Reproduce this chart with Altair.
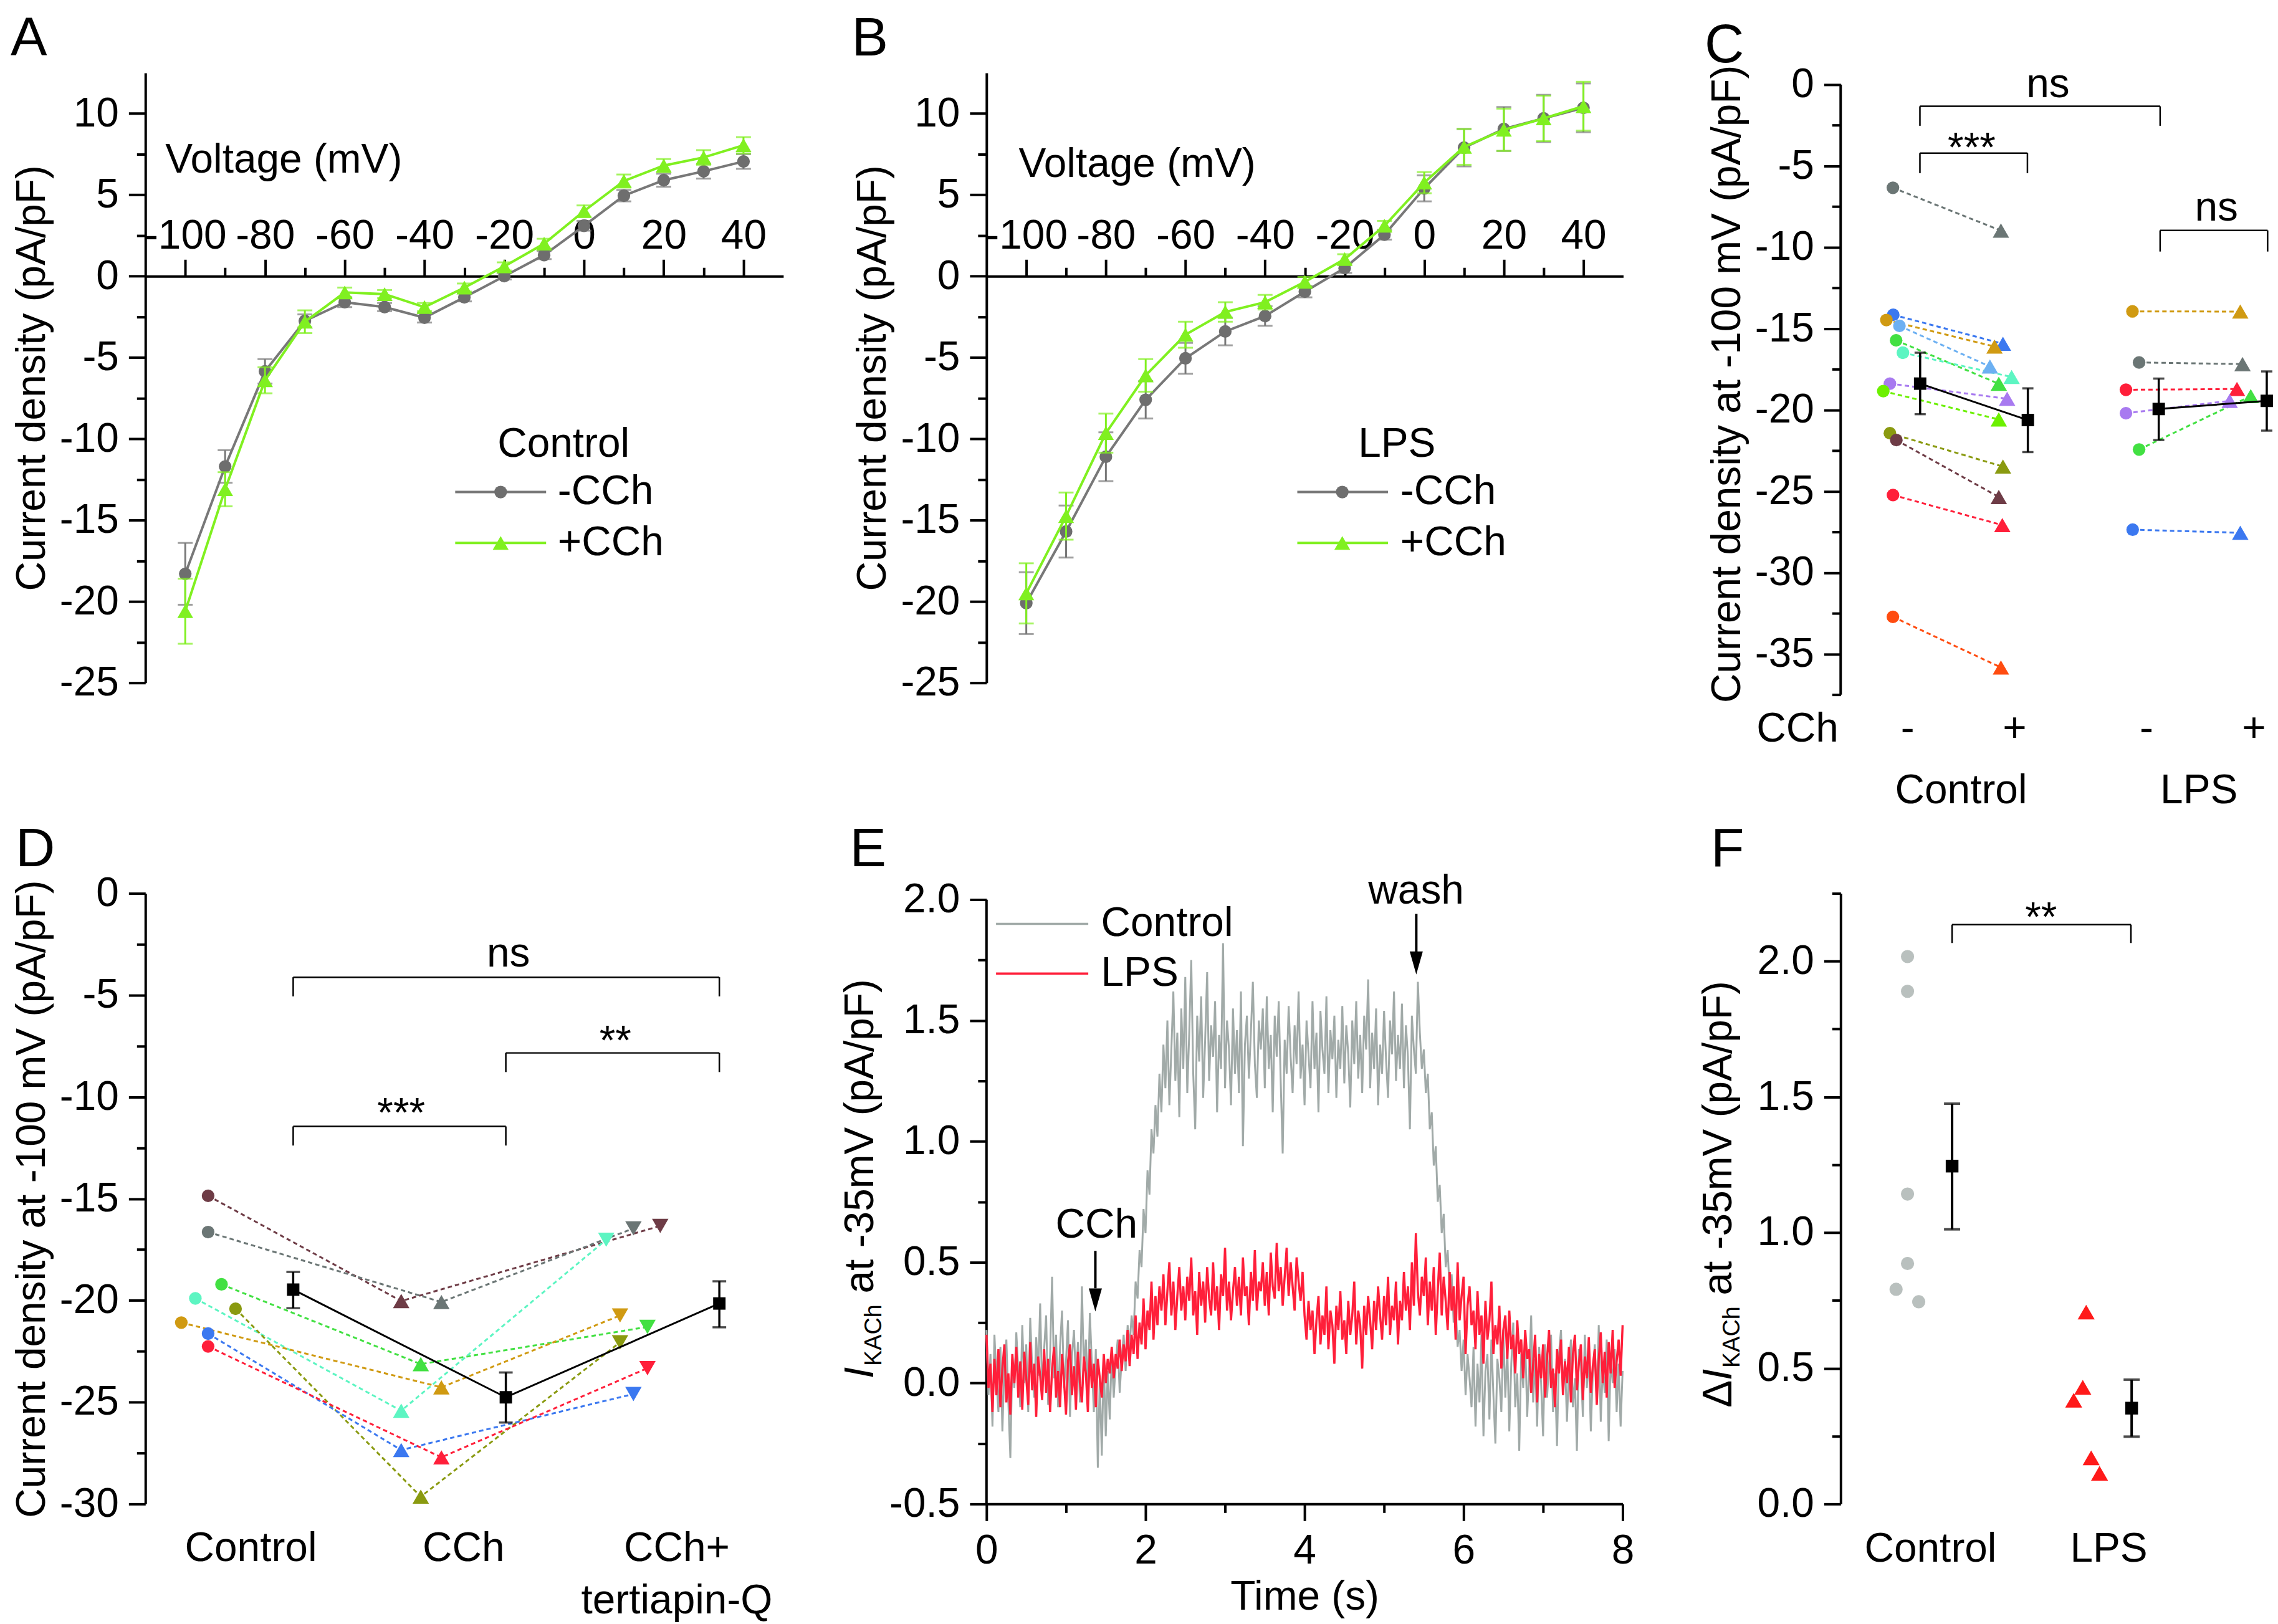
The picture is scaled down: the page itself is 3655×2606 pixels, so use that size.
import altair as alt
import pandas as pd

FONT = "Liberation Sans"
FS = 66
LETTER_FS = 88

# ---------------- data: panels A / B (I-V curves) ----------------
voltage = [-100, -90, -80, -70, -60, -50, -40, -30, -20, -10, 0, 10, 20, 30, 40]
a_minus = [-18.3, -11.7, -5.85, -2.75, -1.6, -1.9, -2.55, -1.3, 0.0, 1.3, 3.1, 4.95, 5.9, 6.45, 7.05]
a_minus_err = [1.9, 1.0, 0.75, 0.4, 0.3, 0.25, 0.3, 0.25, 0.2, 0.25, 0.3, 0.35, 0.4, 0.45, 0.45]
a_plus = [-20.6, -13.1, -6.4, -2.8, -1.0, -1.1, -1.9, -0.7, 0.6, 2.0, 4.0, 5.85, 6.8, 7.3, 8.05]
a_plus_err = [2.0, 1.05, 0.8, 0.7, 0.3, 0.25, 0.25, 0.25, 0.25, 0.3, 0.35, 0.4, 0.4, 0.45, 0.5]
b_minus = [-20.1, -15.7, -11.1, -7.6, -5.05, -3.4, -2.45, -0.95, 0.5, 2.55, 5.4, 7.9, 9.05, 9.7, 10.35]
b_minus_err = [1.9, 1.6, 1.5, 1.15, 0.95, 0.85, 0.6, 0.35, 0.3, 0.3, 0.8, 1.15, 1.35, 1.45, 1.5]
b_plus = [-19.5, -14.75, -9.65, -6.1, -3.6, -2.2, -1.6, -0.35, 1.05, 3.1, 5.75, 7.95, 9.0, 9.7, 10.45]
b_plus_err = [1.85, 1.45, 1.2, 1.0, 0.8, 0.6, 0.45, 0.3, 0.3, 0.3, 0.65, 1.1, 1.3, 1.4, 1.5]
iv_major_ticks = [-100, -80, -60, -40, -20, 0, 20, 40]
iv_minor_ticks = [-90, -70, -50, -30, -10, 10, 30]

# ---------------- data: panel C ----------------
C_GRAY, C_BLUE, C_GOLD, C_LBLUE = "#6b7675", "#3b78f0", "#d09a12", "#6cb0f2"
C_GREEN, C_AQUA, C_LAV, C_LIME = "#42e042", "#5df5c2", "#a87af0", "#6cf000"
C_OLIVE, C_BROWN, C_RED, C_ORED = "#8a9a10", "#6e3c46", "#ff1f3a", "#ff4c10"

c_ctrl_minus = [-6.34, -14.15, -14.47, -14.83, -15.72, -16.48, -18.38, -18.84, -21.43, -21.85, -25.23, -32.72]
c_ctrl_minus_x = [0.489, 0.492, 0.428, 0.55, 0.519, 0.583, 0.461, 0.399, 0.461, 0.521, 0.49, 0.489]
c_ctrl_plus = [-8.97, -15.93, -16.1, -17.33, -18.39, -17.97, -19.31, -20.58, -23.48, -25.35, -27.08, -35.83]
c_ctrl_plus_x = [1.5, 1.519, 1.44, 1.397, 1.48, 1.6, 1.558, 1.48, 1.519, 1.48, 1.513, 1.5]
c_ctrl_colors = [C_GRAY, C_BLUE, C_GOLD, C_LBLUE, C_GREEN, C_AQUA, C_LAV, C_LIME, C_OLIVE, C_BROWN, C_RED, C_ORED]
c_lps_minus = [-13.94, -17.08, -18.76, -20.2, -22.43, -27.36]
c_lps_minus_x = [2.731, 2.793, 2.67, 2.67, 2.793, 2.733]
c_lps_plus = [-13.95, -17.18, -18.71, -19.44, -19.15, -27.55]
c_lps_plus_x = [3.74, 3.761, 3.709, 3.641, 3.838, 3.74]
c_lps_colors = [C_GOLD, C_GRAY, C_RED, C_LAV, C_GREEN, C_BLUE]
c_mean_x = [0.744, 1.752, 2.977, 3.988]
c_mean = [-18.38, -20.62, -19.94, -19.44]
c_mean_lo = [-20.26, -22.59, -21.85, -21.27]
c_mean_hi = [-16.48, -18.67, -18.07, -17.63]
c_mean_group = ["Control", "Control", "LPS", "LPS"]
c_tick_x = [0.626, 1.628, 2.862, 3.868]
c_tick_labels = ["-", "+", "-", "+"]
c_group_x = [1.127, 3.354]
c_group_labels = ["Control", "LPS"]
c_brackets = [(0.742, 2.99, -1.33, -2.53), (0.742, 1.748, -4.21, -5.44), (2.99, 3.996, -8.96, -10.26)]
c_sig_x = [1.94, 1.226, 3.517]
c_sig_y = [0.0, -3.95, -7.6]
c_sig_labels = ["ns", "***", "ns"]

# ---------------- data: panel D ----------------
d_colors = [C_BROWN, C_GRAY, C_GREEN, C_AQUA, C_OLIVE, C_GOLD, C_BLUE, C_RED]
d_ctrl = [-14.86, -16.64, -19.21, -19.9, -20.41, -21.09, -21.63, -22.26]
d_ctrl_x = [0.295, 0.295, 0.358, 0.235, 0.424, 0.169, 0.295, 0.295]
d_cch = [-20.03, -20.08, -23.13, -25.42, -29.64, -24.27, -27.35, -27.71]
d_cch_x = [1.203, 1.392, 1.295, 1.203, 1.295, 1.392, 1.203, 1.392]
d_tq = [-16.34, -16.46, -21.3, -17.02, -22.06, -20.74, -24.6, -23.33]
d_tq_x = [2.421, 2.295, 2.361, 2.167, 2.232, 2.232, 2.295, 2.361]
d_mean_x = [0.695, 1.695, 2.699]
d_mean = [-19.47, -24.76, -20.15]
d_mean_lo = [-20.38, -26.0, -21.32]
d_mean_hi = [-18.6, -23.54, -19.06]
d_cat_x = [0.496, 1.496, 2.499, 2.499]
d_cat_y = [-32.2, -32.2, -32.2, -34.76]
d_cat_labels = ["Control", "CCh", "CCh+", "tertiapin-Q"]
d_brackets = [(0.695, 2.699, -4.12, -5.06), (1.695, 2.699, -7.84, -8.78), (0.695, 1.695, -11.45, -12.39)]
d_sig_x = [1.707, 2.21, 1.203]
d_sig_y = [-2.98, -7.3, -10.86]
d_sig_labels = ["ns", "**", "***"]

# ---------------- data: panel E (traces, 0.025 s sampling) ----------------
e_control = [
    0.22, -0.05, 0.12, -0.18, 0.20, 0.02, -0.12, 0.15, -0.20, 0.08, 0.18, -0.08,
    -0.31, 0.10, -0.02, 0.21, 0.05, -0.10, 0.24, 0.00, 0.16, -0.12, 0.27, 0.06,
    -0.06, 0.19, 0.03, 0.33, -0.04, 0.14, 0.28, -0.09, 0.12, 0.44, 0.02, 0.20,
    -0.10, 0.15, 0.30, -0.02, 0.09, 0.26, -0.14, 0.11, 0.22, 0.00, 0.17, -0.08,
    0.40, 0.05, 0.18, -0.05, 0.29, 0.08, -0.12, 0.14, -0.35, 0.02, -0.30, 0.10,
    -0.22, 0.05, -0.15, 0.12, -0.06, 0.08, 0.18, -0.04, 0.10, 0.20, 0.05, 0.24,
    0.15, 0.28, 0.20, 0.42, 0.35, 0.55, 0.48, 0.72, 0.62, 0.88, 0.78, 1.05,
    0.95, 1.15, 1.02, 1.28, 1.12, 1.40,
    1.22, 1.50, 1.15, 1.38, 1.62, 1.25, 1.45, 1.10, 1.55, 1.30, 1.68, 1.20,
    1.45, 1.75, 1.28, 1.05, 1.52, 1.33, 1.60, 1.18, 1.42, 1.70, 1.25, 1.48,
    1.35, 1.58, 1.12, 1.44, 1.30, 1.82, 1.22, 1.50, 1.38, 1.15, 1.55, 1.28,
    1.46, 1.20, 1.62, 0.98, 1.40, 1.52, 1.26, 1.45, 1.66, 1.32, 1.18, 1.50,
    1.38, 1.55, 1.22, 1.60, 1.30, 1.44, 1.12, 1.52, 1.35, 1.58, 1.25, 0.95,
    1.42, 1.28, 1.56, 1.35, 1.20, 1.48, 1.32, 1.62, 1.26, 1.40, 1.15, 1.50,
    1.36, 1.22, 1.58, 1.30, 1.45, 1.12, 1.54, 1.38, 1.28, 1.60, 1.20, 1.46,
    1.34, 1.52, 1.18, 1.42, 1.30, 1.56, 1.24, 1.48, 1.36, 1.14, 1.50, 1.32,
    1.58, 1.26, 1.44, 1.20, 1.52, 1.38, 1.67, 1.22, 1.45, 1.30, 1.55, 1.15,
    1.40, 1.28, 1.54, 1.34, 1.18, 1.50, 1.36, 1.62, 1.25, 1.44, 1.30, 1.57,
    1.22, 1.48, 1.35, 1.05, 1.52, 1.38, 1.28, 1.66,
    1.45, 1.30, 1.38, 1.20, 1.28, 1.05, 1.12, 0.90, 0.98, 0.75, 0.82, 0.62,
    0.70, 0.48, 0.55, 0.38, 0.45, 0.25, 0.32, 0.15, 0.22, 0.05, 0.18, -0.05,
    0.12, 0.02, -0.10,
    0.15, -0.18, 0.08, -0.08, 0.20, -0.22, 0.05, 0.12, -0.15, 0.18, -0.05, -0.25,
    0.10, 0.02, -0.12, 0.22, -0.06, 0.14, -0.20, 0.08, 0.25, -0.10, 0.04, -0.28,
    0.12, -0.02, 0.18, -0.14, 0.06, 0.28, -0.08, 0.10, -0.18, 0.15, 0.00, -0.22,
    0.16, -0.06, 0.08, 0.20, -0.12, 0.04, -0.26, 0.12, 0.22, -0.04, 0.10, -0.16,
    0.06, 0.18, -0.10, 0.02, -0.28, 0.14, 0.08, -0.14, 0.20, -0.02, 0.12, -0.20,
    0.04, 0.16, -0.08, 0.24, -0.16, 0.06, -0.04, 0.18, -0.24, 0.10, 0.00, 0.14,
    -0.12, 0.08, -0.18, 0.05,
]
e_lps = [
    0.20, -0.02, 0.08, -0.12, 0.10, -0.05, 0.14, -0.10, 0.06, 0.16, -0.08, 0.04,
    -0.13, 0.12, 0.00, 0.15, -0.06, 0.09, -0.11, 0.13, 0.02, -0.09, 0.17, -0.03,
    0.08, -0.14, 0.11, 0.03, -0.07, 0.14, -0.04, 0.10, -0.12, 0.06, 0.15, -0.06,
    0.05, -0.10, 0.12, 0.01, -0.13, 0.09, 0.16, -0.05, 0.07, -0.11, 0.13, 0.00,
    -0.08, 0.11, 0.04, -0.12, 0.14, -0.02, 0.08, -0.10, 0.10, 0.02, -0.06, 0.12,
    0.00, 0.10, 0.04, 0.15, 0.02, 0.12, 0.06, 0.18, 0.05, 0.16, 0.09, 0.22,
    0.07, 0.20, 0.12, 0.28, 0.10, 0.25, 0.16, 0.35, 0.14, 0.30, 0.22, 0.42,
    0.18, 0.36, 0.24, 0.40,
    0.30, 0.45, 0.24, 0.38, 0.50, 0.28, 0.42, 0.22, 0.36, 0.48, 0.30, 0.40,
    0.26, 0.44, 0.34, 0.52, 0.28, 0.38, 0.20, 0.46, 0.32, 0.42, 0.25, 0.48,
    0.35, 0.28, 0.50, 0.30, 0.40, 0.22, 0.45, 0.36, 0.56, 0.30, 0.42, 0.26,
    0.38, 0.48, 0.32, 0.44, 0.28, 0.52, 0.36, 0.40, 0.24, 0.46, 0.34, 0.55,
    0.30, 0.42, 0.38, 0.50, 0.32, 0.46, 0.28, 0.54, 0.40, 0.35, 0.58, 0.38,
    0.48, 0.32, 0.44, 0.56, 0.36, 0.50, 0.40, 0.30, 0.52, 0.42, 0.34, 0.46,
    0.28, 0.18, 0.34, 0.22, 0.30, 0.12, 0.26, 0.36, 0.16, 0.28, 0.20, 0.40,
    0.14, 0.30, 0.24, 0.08, 0.32, 0.22, 0.38, 0.18, 0.26, 0.12, 0.34, 0.20,
    0.28, 0.42, 0.16, 0.30, 0.24, 0.06, 0.32, 0.20, 0.36, 0.26, 0.14, 0.34,
    0.22, 0.40, 0.28, 0.18, 0.36, 0.24, 0.44, 0.20, 0.32, 0.26, 0.42, 0.16,
    0.34, 0.26, 0.46, 0.30, 0.40, 0.22, 0.50, 0.32, 0.62, 0.38, 0.28, 0.44,
    0.36, 0.52, 0.24, 0.42, 0.30, 0.48, 0.20, 0.38, 0.54, 0.28, 0.44, 0.34,
    0.22, 0.46, 0.30, 0.40, 0.18, 0.50, 0.26, 0.36, 0.44, 0.12, 0.32, 0.40, 0.24,
    0.30, 0.14, 0.38, 0.20, 0.28, 0.08, 0.34, 0.18, 0.26, 0.42, 0.12, 0.24,
    0.16, 0.32, 0.06, 0.22, 0.28, 0.10, 0.30, 0.14, 0.20, 0.04, 0.26, 0.12,
    0.18, 0.02, 0.22, 0.10,
    0.14, -0.04, 0.08, 0.20, -0.08, 0.12, 0.02, 0.16, -0.06, 0.10, 0.22, -0.02,
    0.06, -0.10, 0.14, 0.04, 0.18, -0.05, 0.09, 0.00, 0.15, -0.08, 0.12, 0.20,
    -0.03, 0.08, 0.16, -0.07, 0.11, 0.02, 0.19, -0.04, 0.07, 0.14, -0.09, 0.10,
    0.21, 0.00, 0.13, -0.06, 0.17, 0.04, 0.22, -0.02, 0.09, 0.18, 0.03, 0.24,
]
E_DT = 0.025

# ---------------- data: panel F ----------------
f_ctrl = [2.017, 1.889, 1.142, 0.886, 0.791, 0.745]
f_ctrl_x = [0.375, 0.375, 0.375, 0.375, 0.311, 0.438]
f_lps = [0.707, 0.43, 0.382, 0.17, 0.113]
f_lps_x = [1.377, 1.358, 1.307, 1.405, 1.452]
f_mean_x = [0.625, 1.632]
f_mean = [1.245, 0.353]
f_mean_lo = [1.012, 0.248]
f_mean_hi = [1.475, 0.458]
f_cat_x = [0.504, 1.504]
f_cat_labels = ["Control", "LPS"]

GRAY_LN, GRAY_PT, GREEN = "#787878", "#6e6e6e", "#80f020"
E_GRAY, E_RED = "#a1aaa8", "#ff1f3a"
F_GRAY, F_RED = "#b9c0be", "#ff1a1a"
MINUS = "\u2212"


def cond(test, a, b):
    return {"condition": {"test": test, "value": a}, "value": b}


def lab(test):
    return test + " ? replace(datum.label, '" + MINUS + "', '-') : ''"


def text_layer(X, Y, xs, ys, texts, size=FS, align="center", baseline="middle"):
    df = pd.DataFrame({"x": xs, "y": ys, "t": texts})
    return alt.Chart(df).mark_text(font=FONT, fontSize=size, align=align, baseline=baseline,
                                   color="black").encode(x=X("x"), y=Y("y"), text="t:N")


def bracket_layers(X, Y, brackets):
    h = pd.DataFrame({"x1": [b[0] for b in brackets], "x2": [b[1] for b in brackets],
                      "y": [b[2] for b in brackets]})
    legs = pd.DataFrame({"x": [b[0] for b in brackets] + [b[1] for b in brackets],
                         "y1": [b[2] for b in brackets] * 2, "y2": [b[3] for b in brackets] * 2})
    return [alt.Chart(h).mark_rule(color="black", strokeWidth=2.5).encode(x=X("x1"), x2=alt.X2("x2"), y=Y("y")),
            alt.Chart(legs).mark_rule(color="black", strokeWidth=2.5).encode(x=X("x"), y=Y("y1"), y2=alt.Y2("y2"))]


def errbar_layers(X, Y, xs, lo, hi, color, width=3.5, cap=22):
    df = pd.DataFrame({"x": xs, "lo": lo, "hi": hi})
    return [alt.Chart(df).mark_rule(color=color, strokeWidth=width).encode(x=X("x"), y=Y("lo"), y2=alt.Y2("hi")),
            alt.Chart(df).mark_tick(orient="horizontal", size=cap, thickness=width, color=color).encode(x=X("x"), y=Y("lo")),
            alt.Chart(df).mark_tick(orient="horizontal", size=cap, thickness=width, color=color).encode(x=X("x"), y=Y("hi"))]


def letter_layer(ch, dx, dy):
    return alt.Chart(pd.DataFrame({"t": [ch]})).mark_text(
        font=FONT, fontSize=LETTER_FS, align="left", baseline="alphabetic", color="black"
    ).encode(x=alt.value(dx), y=alt.value(dy), text="t:N")


def vtext(t, dx, dy, size, style="normal"):
    return alt.Chart(pd.DataFrame({"t": [t]})).mark_text(
        font=FONT, fontSize=size, fontStyle=style, angle=270, align="left", baseline="alphabetic", color="black"
    ).encode(x=alt.value(dx), y=alt.value(dy), text="t:N")


def points_layer(X, Y, xs, ys, colors, shape, size):
    df = pd.DataFrame({"x": xs, "y": ys, "c": colors})
    return alt.Chart(df).mark_point(filled=True, opacity=1, shape=shape, size=size, strokeWidth=0).encode(
        x=X("x"), y=Y("y"), color=alt.Color("c:N", scale=None))


# ---------------- panels A / B ----------------
def iv_panel(minus, minus_err, plus, plus_err, group, width, leg, volt_x, volt_y, letter):
    H = 982
    y0 = H * 12.5 / 37.5
    xs = alt.Scale(domain=[-110, 50], nice=False, zero=False)
    ys = alt.Scale(domain=[-25, 12.5], nice=False, zero=False)
    yax = alt.Axis(values=[-25 + 2.5 * i for i in range(15)], labelExpr=lab("datum.value % 5 == 0"),
                   tickSize=cond("datum.value % 5 == 0", 27, 14), title="Current density (pA/pF)")
    x_major = alt.Axis(orient="top", offset=-y0, values=iv_major_ticks,
                       labelExpr="replace(datum.label, '" + MINUS + "', '-')",
                       tickSize=27, labelPadding=4, title=None)
    x_minor = alt.Axis(orient="top", offset=-y0, values=iv_minor_ticks, labels=False,
                       tickSize=14, domain=False, title=None)

    def X(f, ax=None):
        if ax is None:
            return alt.X(f, type="quantitative", scale=xs, axis=None)
        return alt.X(f, type="quantitative", scale=xs, axis=ax)

    def Y(f):
        return alt.Y(f, type="quantitative", scale=ys, axis=yax)

    layers = []
    # two invisible layers carrying the major and minor x axes
    tick_df = pd.DataFrame({"x": voltage, "y": [0] * len(voltage)})
    layers.append(alt.Chart(tick_df).mark_point(opacity=0).encode(x=X("x", x_major), y=Y("y")))
    layers.append(alt.Chart(tick_df).mark_point(opacity=0).encode(x=X("x", x_minor), y=Y("y")))
    for vals, errs, lcol, pcol, shape, size in [(minus, minus_err, GRAY_LN, GRAY_PT, "circle", 415),
                                                 (plus, plus_err, GREEN, GREEN, "triangle-up", 650)]:
        lo = [v - e for v, e in zip(vals, errs)]
        hi = [v + e for v, e in zip(vals, errs)]
        layers += errbar_layers(X, Y, voltage, lo, hi, lcol, width=3, cap=24)
        df = pd.DataFrame({"x": voltage, "y": vals})
        layers.append(alt.Chart(df).mark_line(color=lcol, strokeWidth=4).encode(x=X("x"), y=Y("y")))
        layers.append(points_layer(X, Y, voltage, vals, [pcol] * len(vals), shape, size))
    # legend
    lx1, lx2, lxm, lxt, ly1, ly2, ltx, lty = leg
    ldf = pd.DataFrame({"x1": [lx1, lx1], "x2": [lx2, lx2], "y": [ly1, ly2], "c": [GRAY_LN, GREEN]})
    layers.append(alt.Chart(ldf).mark_rule(strokeWidth=4).encode(x=X("x1"), x2=alt.X2("x2"), y=Y("y"),
                                                                 color=alt.Color("c:N", scale=None)))
    layers.append(points_layer(X, Y, [lxm], [ly1], [GRAY_PT], "circle", 415))
    layers.append(points_layer(X, Y, [lxm], [ly2], [GREEN], "triangle-up", 650))
    layers.append(text_layer(X, Y, [lxt, lxt], [ly1, ly2], ["-CCh", "+CCh"], align="left"))
    layers.append(text_layer(X, Y, [ltx], [lty], [group], align="left"))
    layers.append(text_layer(X, Y, [volt_x], [volt_y], ["Voltage (mV)"], align="left"))
    layers.append(letter_layer(letter, -217, -28))
    return alt.layer(*layers).resolve_axis(x="independent").properties(width=width, height=H)


panel_a = iv_panel(a_minus, a_minus_err, a_plus, a_plus_err, "Control", 1027,
                   (-32.3, -9.5, -20.9, -6.6, -13.27, -16.4, -21.7, -10.33), -105.0, 7.12, "A")
panel_b = iv_panel(b_minus, b_minus_err, b_plus, b_plus_err, "LPS", 1025,
                   (-31.9, -9.1, -20.6, -6.0, -13.27, -16.4, -16.6, -10.33), -101.9, 6.85, "B")


# ---------------- panel C ----------------
def panel_c():
    H, W = 1001, 688
    xs = alt.Scale(domain=[0, 4.0], nice=False, zero=False)
    ys = alt.Scale(domain=[-37.5, 0.725], nice=False, zero=False)
    yax = alt.Axis(values=[-37.5 + 2.5 * i for i in range(16)], labelExpr=lab("datum.value % 5 == 0"),
                   tickSize=cond("datum.value % 5 == 0", 27, 14), domain=False,
                   title="Current density at -100 mV (pA/pF)")

    def X(f):
        return alt.X(f, type="quantitative", scale=xs, axis=None)

    def Y(f):
        return alt.Y(f, type="quantitative", scale=ys, axis=yax)

    layers = [alt.Chart(pd.DataFrame({"x": [0], "y1": [-37.5], "y2": [0]})).mark_rule(
        color="black", strokeWidth=4).encode(x=X("x"), y=Y("y1"), y2=alt.Y2("y2"))]
    rows = []
    for i in range(len(c_ctrl_minus)):
        rows.append({"id": f"c{i}", "x": c_ctrl_minus_x[i], "y": c_ctrl_minus[i], "c": c_ctrl_colors[i]})
        rows.append({"id": f"c{i}", "x": c_ctrl_plus_x[i], "y": c_ctrl_plus[i], "c": c_ctrl_colors[i]})
    for i in range(len(c_lps_minus)):
        rows.append({"id": f"l{i}", "x": c_lps_minus_x[i], "y": c_lps_minus[i], "c": c_lps_colors[i]})
        rows.append({"id": f"l{i}", "x": c_lps_plus_x[i], "y": c_lps_plus[i], "c": c_lps_colors[i]})
    ldf = pd.DataFrame(rows)
    layers.append(alt.Chart(ldf).mark_line(strokeWidth=3, strokeDash=[7, 5]).encode(
        x=X("x"), y=Y("y"), detail="id:N", color=alt.Color("c:N", scale=None)))
    layers.append(points_layer(X, Y, c_ctrl_minus_x + c_lps_minus_x, c_ctrl_minus + c_lps_minus,
                               c_ctrl_colors + c_lps_colors, "circle", 415))
    layers.append(points_layer(X, Y, c_ctrl_plus_x + c_lps_plus_x, c_ctrl_plus + c_lps_plus,
                               c_ctrl_colors + c_lps_colors, "triangle-up", 700))
    mdf = pd.DataFrame({"x": c_mean_x, "y": c_mean, "g": c_mean_group})
    layers.append(alt.Chart(mdf).mark_line(color="black", strokeWidth=3).encode(x=X("x"), y=Y("y"), detail="g:N"))
    layers += errbar_layers(X, Y, c_mean_x, c_mean_lo, c_mean_hi, "black", width=3.5, cap=18)
    layers.append(points_layer(X, Y, c_mean_x, c_mean, ["black"] * 4, "square", 400))
    layers += bracket_layers(X, Y, c_brackets)
    layers.append(text_layer(X, Y, c_sig_x, c_sig_y, c_sig_labels))
    layers.append(text_layer(X, Y, c_tick_x, [-39.63] * 4, c_tick_labels))
    layers.append(text_layer(X, Y, [-0.02], [-39.63], ["CCh"], align="right"))
    layers.append(text_layer(X, Y, c_group_x, [-43.43] * 2, c_group_labels))
    layers.append(letter_layer("C", -219, -17))
    return alt.layer(*layers).properties(width=W, height=H)


# ---------------- panel D ----------------
def panel_d():
    H, W = 983, 1027
    xs = alt.Scale(domain=[0, 3.0], nice=False, zero=False)
    ys = alt.Scale(domain=[-30, 0], nice=False, zero=False)
    yax = alt.Axis(values=[-30 + 2.5 * i for i in range(13)], labelExpr=lab("datum.value % 5 == 0"),
                   tickSize=cond("datum.value % 5 == 0", 27, 14),
                   title="Current density at -100 mV (pA/pF)")

    def X(f):
        return alt.X(f, type="quantitative", scale=xs, axis=None)

    def Y(f):
        return alt.Y(f, type="quantitative", scale=ys, axis=yax)

    rows = []
    for i in range(len(d_ctrl)):
        for xv, yv in [(d_ctrl_x[i], d_ctrl[i]), (d_cch_x[i], d_cch[i]), (d_tq_x[i], d_tq[i])]:
            rows.append({"id": f"d{i}", "x": xv, "y": yv, "c": d_colors[i]})
    ldf = pd.DataFrame(rows)
    layers = [alt.Chart(ldf).mark_line(strokeWidth=3, strokeDash=[7, 5]).encode(
        x=X("x"), y=Y("y"), detail="id:N", color=alt.Color("c:N", scale=None))]
    layers.append(points_layer(X, Y, d_ctrl_x, d_ctrl, d_colors, "circle", 415))
    layers.append(points_layer(X, Y, d_cch_x, d_cch, d_colors, "triangle-up", 700))
    layers.append(points_layer(X, Y, d_tq_x, d_tq, d_colors, "triangle-down", 700))
    mdf = pd.DataFrame({"x": d_mean_x, "y": d_mean})
    layers.append(alt.Chart(mdf).mark_line(color="black", strokeWidth=3).encode(x=X("x"), y=Y("y")))
    layers += errbar_layers(X, Y, d_mean_x, d_mean_lo, d_mean_hi, "black", width=3.5, cap=22)
    layers.append(points_layer(X, Y, d_mean_x, d_mean, ["black"] * 3, "square", 400))
    layers += bracket_layers(X, Y, d_brackets)
    layers.append(text_layer(X, Y, d_sig_x, d_sig_y, d_sig_labels))
    layers.append(text_layer(X, Y, d_cat_x, d_cat_y, d_cat_labels))
    layers.append(letter_layer("D", -209, -44))
    return alt.layer(*layers).properties(width=W, height=H)


# ---------------- panel E ----------------
def panel_e():
    H, W = 983, 1024
    xs = alt.Scale(domain=[0, 8], nice=False, zero=False)
    ys = alt.Scale(domain=[-0.5, 2.026], nice=False, zero=False)
    xax = alt.Axis(values=list(range(0, 9)), labelExpr=lab("datum.value % 2 == 0"),
                   tickSize=cond("datum.value % 2 == 0", 27, 14), title="Time (s)", titlePadding=10)
    yax = alt.Axis(values=[-0.5 + 0.25 * i for i in range(11)], format=".1f",
                   labelExpr=lab("datum.value % 0.5 == 0"),
                   tickSize=cond("datum.value % 0.5 == 0", 27, 14), domain=False, title=None)

    def X(f):
        return alt.X(f, type="quantitative", scale=xs, axis=xax)

    def Y(f):
        return alt.Y(f, type="quantitative", scale=ys, axis=yax)

    layers = [alt.Chart(pd.DataFrame({"x": [0], "y1": [-0.5], "y2": [2.0]})).mark_rule(
        color="black", strokeWidth=4).encode(x=X("x"), y=Y("y1"), y2=alt.Y2("y2"))]
    cdf = pd.DataFrame({"t": [round(i * E_DT, 3) for i in range(len(e_control))], "v": e_control})
    ldf = pd.DataFrame({"t": [round(i * E_DT, 3) for i in range(len(e_lps))], "v": e_lps})
    layers.append(alt.Chart(cdf).mark_line(color=E_GRAY, strokeWidth=3).encode(x=X("t"), y=Y("v")))
    layers.append(alt.Chart(ldf).mark_line(color=E_RED, strokeWidth=3.5).encode(x=X("t"), y=Y("v")))
    legdf = pd.DataFrame({"x1": [0.12, 0.12], "x2": [1.28, 1.28], "y": [1.90, 1.694], "c": [E_GRAY, E_RED]})
    layers.append(alt.Chart(legdf).mark_rule(strokeWidth=3.5).encode(x=X("x1"), x2=alt.X2("x2"), y=Y("y"),
                                                                     color=alt.Color("c:N", scale=None)))
    layers.append(text_layer(X, Y, [1.44, 1.44], [1.90, 1.694], ["Control", "LPS"], align="left"))
    # arrows
    adf = pd.DataFrame({"x": [1.369, 5.405], "y1": [0.547, 1.941], "y2": [0.392, 1.784]})
    layers.append(alt.Chart(adf).mark_rule(color="black", strokeWidth=4).encode(x=X("x"), y=Y("y1"), y2=alt.Y2("y2")))
    hdf = pd.DataFrame({"x": [1.369, 5.405], "y": [0.344, 1.738]})
    layers.append(alt.Chart(hdf).mark_point(filled=True, opacity=1, color="black", strokeWidth=0,
                                            shape="M-0.57,-1L0.57,-1L0,1Z", size=1369).encode(x=X("x"), y=Y("y")))
    layers.append(text_layer(X, Y, [1.383, 5.403], [0.654, 2.034], ["CCh", "wash"]))
    # composed y title
    layers.append(vtext("I", -182, 781, FS, "italic"))
    layers.append(vtext("KACh", -169, 761, 38))
    layers.append(vtext("at -35mV (pA/pF)", -182, 644, FS))
    layers.append(letter_layer("E", -220, -44))
    return alt.layer(*layers).properties(width=W, height=H)


# ---------------- panel F ----------------
def panel_f():
    H, W = 983, 688
    xs = alt.Scale(domain=[0, 2.397], nice=False, zero=False)
    ys = alt.Scale(domain=[0, 2.25], nice=False, zero=False)
    yax = alt.Axis(values=[0.25 * i for i in range(10)], format=".1f",
                   labelExpr=lab("datum.value % 0.5 == 0"),
                   tickSize=cond("datum.value % 0.5 == 0", 27, 14), title=None)

    def X(f):
        return alt.X(f, type="quantitative", scale=xs, axis=None)

    def Y(f):
        return alt.Y(f, type="quantitative", scale=ys, axis=yax)

    layers = [points_layer(X, Y, f_ctrl_x, f_ctrl, [F_GRAY] * len(f_ctrl), "circle", 450),
              points_layer(X, Y, f_lps_x, f_lps, [F_RED] * len(f_lps), "triangle-up", 750)]
    layers += errbar_layers(X, Y, f_mean_x, f_mean_lo, f_mean_hi, "black", width=4, cap=26)
    layers.append(points_layer(X, Y, f_mean_x, f_mean, ["black"] * 2, "square", 420))
    layers += bracket_layers(X, Y, [(0.625, 1.628, 2.135, 2.067)])
    layers.append(text_layer(X, Y, [1.124], [2.156], ["**"]))
    layers.append(text_layer(X, Y, f_cat_x, [-0.167, -0.167], f_cat_labels))
    layers.append(vtext("\u0394", -176, 828, FS))
    layers.append(vtext("I", -176, 784, FS, "italic"))
    layers.append(vtext("KACh", -163, 764, 38))
    layers.append(vtext("at -35mV (pA/pF)", -176, 647, FS))
    layers.append(letter_layer("F", -209, -44))
    return alt.layer(*layers).properties(width=W, height=H)


def spacer(w):
    return alt.Chart(pd.DataFrame({"s": [0]})).mark_point(opacity=0).encode(
        x=alt.X("s:Q", axis=None), y=alt.Y("s:Q", axis=None)).properties(width=w, height=10)


cells = [panel_a, spacer(327), panel_b, spacer(350), panel_c(),
         panel_d(), spacer(326), panel_e(), spacer(350), panel_f()]
chart = alt.concat(*cells, columns=5, spacing={"row": 320, "column": 0}, bounds="flush").properties(
    padding={"top": 7, "left": 9, "right": 0, "bottom": 0})

chart = chart.configure(font=FONT).configure_view(strokeWidth=0).configure_axis(
    domainColor="black", domainWidth=4, tickColor="black", tickWidth=4,
    labelFont=FONT, labelFontSize=FS, labelColor="black", labelFlush=False, labelOverlap=False,
    labelPadding=16, titleFont=FONT, titleFontSize=FS, titleFontWeight="normal", titleColor="black",
    titlePadding=10, grid=False,
)

chart.save("out.html", embed_options={"renderer": "svg", "actions": False})
